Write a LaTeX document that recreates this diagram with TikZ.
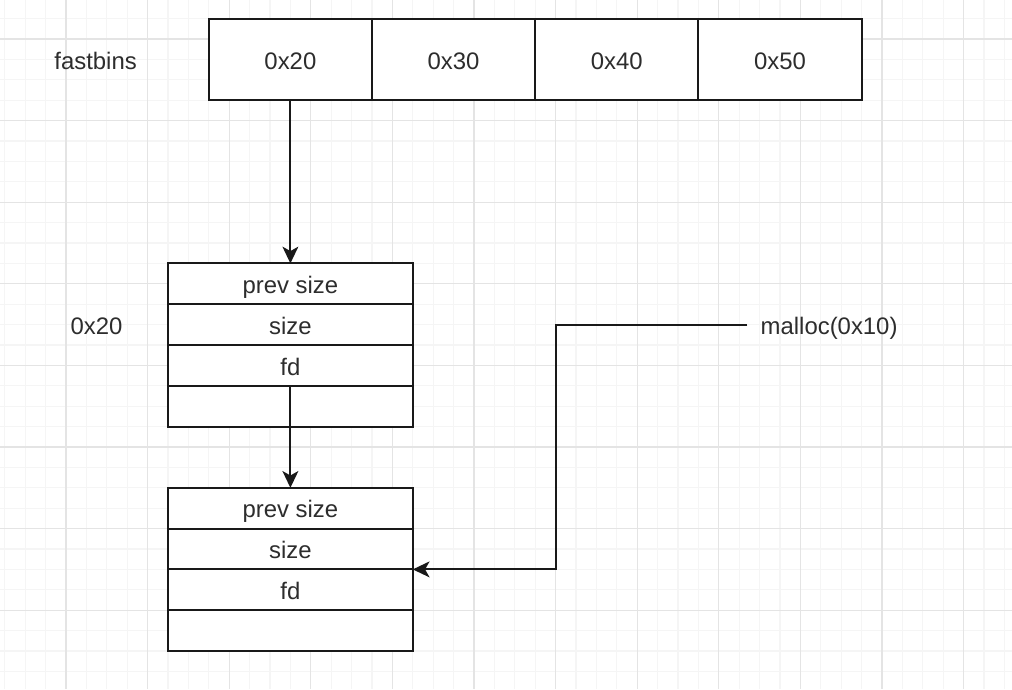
\documentclass[tikz,border=0pt]{standalone}
\usepackage{fontspec}
\setmainfont{Liberation Sans}
\usetikzlibrary{positioning, arrows.meta}
\definecolor{LineColor}{RGB}{25,25,25}
\definecolor{TextColor}{RGB}{45,45,45}
\definecolor{GridMajor}{RGB}{228,228,228}
\definecolor{GridMinor}{RGB}{245,245,245}
\tikzstyle{pointer} = [line width=1.2pt, LineColor, -{Stealth[length=9.5pt, width=9pt, inset=2.5pt]}]
\tikzset{
  plainlabel/.style={text=TextColor, font=\fontsize{13.6}{16}\selectfont, inner sep=0pt,
    text height=1.3em, text depth=0.2em},
  cell/.style={plainlabel, rectangle, draw=LineColor, line width=1.2pt, fill=white, outer sep=0pt},
  bincell/.style={cell, minimum width=3.264cm, minimum height=1.632cm},
  chunkrow/.style={cell, minimum width=4.896cm, minimum height=0.816cm}
}

\begin{document}
\begin{tikzpicture}[x=0.408cm, y=-0.408cm]
    \useasboundingbox (-3.235,-1.912) rectangle (46.373,31.863);
    \fill[white] (-3.235,-1.912) rectangle (46.373,31.863);

    % Grid
    \foreach \i in {-3,...,46} \draw[GridMinor, line width=0.6pt] (\i,-1.912) -- (\i,31.863);
    \foreach \j in {-1,...,31} \draw[GridMinor, line width=0.6pt] (-3.235,\j) -- (46.373,\j);
    \foreach \i in {0,4,...,44} \draw[GridMajor, line width=0.7pt] (\i,-1.912) -- (\i,31.863);
    \foreach \j in {0,4,...,28} \draw[GridMajor, line width=0.7pt] (-3.235,\j) -- (46.373,\j);

    % Fastbins
    \node[plainlabel] (fastbins) at (1.45,1) {fastbins};
    \node[bincell] (bin20) at (11,1) {0x20};
    \node[bincell, right=0pt of bin20] (bin30) {0x30};
    \node[bincell, right=0pt of bin30] (bin40) {0x40};
    \node[bincell, right=0pt of bin40] (bin50) {0x50};

    % First chunk
    \node[plainlabel] (size20) at (1.5,14) {0x20};
    \node[chunkrow] (c1prev) at (11,12) {prev size};
    \node[chunkrow, below=0pt of c1prev] (c1size) {size};
    \node[chunkrow, below=0pt of c1size] (c1fd) {fd};
    \node[chunkrow, below=0pt of c1fd] (c1data) {};

    % Second chunk
    \node[chunkrow] (c2prev) at (11,23) {prev size};
    \node[chunkrow, below=0pt of c2prev] (c2size) {size};
    \node[chunkrow, below=0pt of c2size] (c2fd) {fd};
    \node[chunkrow, below=0pt of c2fd] (c2data) {};

    % Malloc
    \node[plainlabel, inner xsep=0.26cm, anchor=west] (malloc) at (33.4,14) {malloc(0x10)};
    \coordinate (bend) at (24,14);

    % Pointers
    \draw[pointer] (bin20.south) -- (c1prev.north);
    \draw[pointer] (c1fd.south) -- (c2prev.north);
    \draw[pointer] (malloc.west) -- (bend) |- (c2size.south east);
\end{tikzpicture}
\end{document}
